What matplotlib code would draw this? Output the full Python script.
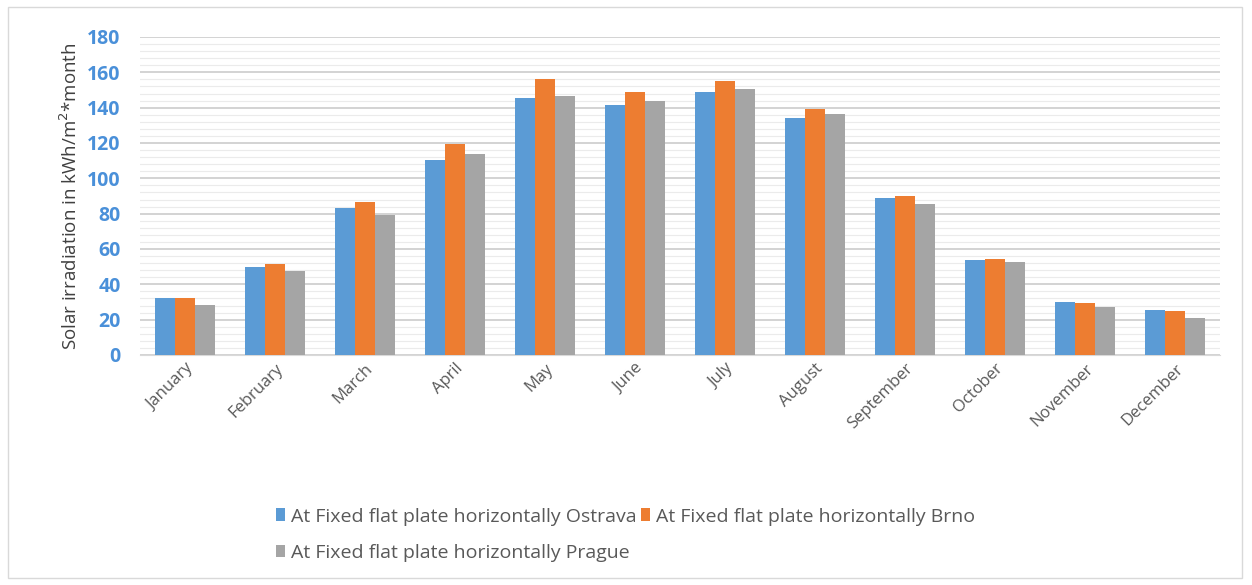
import numpy as np
import matplotlib.pyplot as plt
from matplotlib.patches import Rectangle
from matplotlib.ticker import MultipleLocator

months = ['January', 'February', 'March', 'April', 'May', 'June', 'July',
          'August', 'September', 'October', 'November', 'December']
ostrava = [32.4, 50, 83.3, 110.6, 145.7, 141.7, 148.9, 134.4, 88.6, 53.7, 30.2, 25.4]
brno = [32.4, 51.5, 86.7, 119.7, 156.3, 149.1, 154.9, 139.1, 90.1, 54.5, 29.6, 24.9]
prague = [28.3, 47.5, 79.2, 114, 146.8, 143.8, 150.4, 136.5, 85.2, 52.4, 27, 21.1]
series_names = ['At Fixed flat plate horizontally Ostrava',
                'At Fixed flat plate horizontally Brno',
                'At Fixed flat plate horizontally Prague']
colors = ['#5B9BD5', '#ED7D31', '#A5A5A5']

plt.rcParams['font.family'] = ['Open Sans', 'DejaVu Sans']

fig = plt.figure(figsize=(12.52, 5.85), dpi=100)
ax = fig.add_axes([140 / 1252, 1 - 355 / 585, (1220 - 140) / 1252, (355 - 37) / 585])

x = np.arange(len(months))
w = 0.22
bars = []
for i, (vals, name, c) in enumerate(zip([ostrava, brno, prague], series_names, colors)):
    b = ax.bar(x + (i - 1) * w, vals, w, color=c, label=name, zorder=3)
    bars.append(b)

ax.set_xlim(-0.5, len(months) - 0.5)
ax.set_ylim(0, 180)
ax.yaxis.set_major_locator(MultipleLocator(20))
ax.yaxis.set_minor_locator(MultipleLocator(4))
ax.grid(axis='y', which='major', color='#d0d0d0', linewidth=1.3, zorder=0)
ax.grid(axis='y', which='minor', color='#ebebeb', linewidth=0.8, zorder=0)
for s in ['top', 'right', 'left']:
    ax.spines[s].set_visible(False)
ax.spines['bottom'].set_color('#d9d9d9')
ax.tick_params(axis='y', which='both', length=0, pad=14)
ax.tick_params(axis='x', length=0, pad=4)
for lab in ax.get_yticklabels():
    lab.set_fontweight('bold')
    lab.set_color('#4a90d9')
    lab.set_fontsize(14)
ax.set_xticks(x)
ax.set_xticklabels(months, rotation=45, ha='right', rotation_mode='anchor',
                   fontsize=12, color='#595959')
ax.set_ylabel('Solar irradiation in kWh/m$^2$*month', fontsize=13.5, color='#404040', labelpad=4)

# column-wise fill: Ostrava and Brno on the first row, Prague below
handles = [bars[0], bars[2], bars[1]]
labels = [series_names[0], series_names[2], series_names[1]]
fig.legend(handles, labels, ncol=2, loc='upper left', bbox_to_anchor=(258 / 1252, 1 - 490 / 585),
           frameon=False, fontsize=14, labelcolor='#595959', handlelength=0.5, handleheight=0.6,
           handletextpad=0.3, columnspacing=0.2, labelspacing=0.95)

fig.patches.append(Rectangle((8 / 1252, 7 / 585), 1234 / 1252, 571 / 585, transform=fig.transFigure,
                             fill=False, edgecolor='#d9d9d9', linewidth=1))

fig.savefig('out.png', dpi=100)
